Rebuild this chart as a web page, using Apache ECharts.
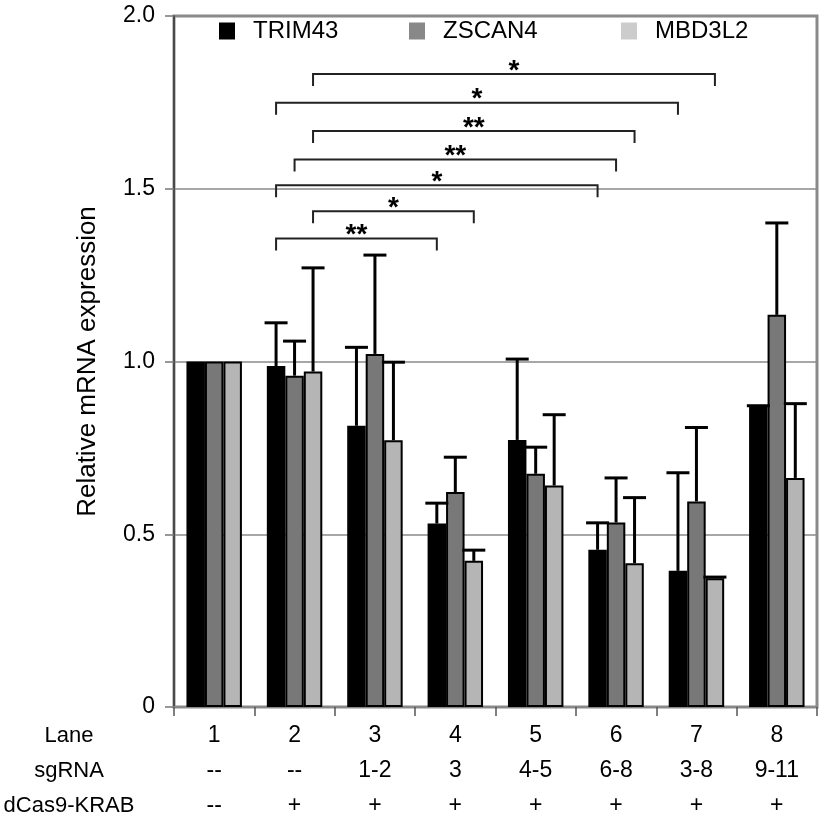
<!DOCTYPE html>
<html>
<head>
<meta charset="utf-8">
<script src="https://cdn.jsdelivr.net/npm/echarts@6/dist/echarts.min.js"></script>
<style>
html,body{margin:0;padding:0;background:#fff;}
#chart{width:825px;height:818px;}
</style>
</head>
<body>
<div id="chart"></div>
<script>
// rows under the x axis
let lanes = ['1','2','3','4','5','6','7','8'];
let sgRNA = ['--','--','1-2','3','4-5','6-8','3-8','9-11'];
let dCas9 = ['--','+','+','+','+','+','+','+'];
let rowNames = ['Lane','sgRNA','dCas9-KRAB'];

// relative mRNA expression, bar heights
let seriesNames = ['TRIM43','ZSCAN4','MBD3L2'];
let trim43 = [1.0, 0.987, 0.814, 0.531, 0.773, 0.455, 0.394, 0.872];
let zscan4 = [1.0, 0.959, 1.022, 0.622, 0.675, 0.534, 0.595, 1.135];
let mbd3l2 = [1.0, 0.971, 0.772, 0.423, 0.641, 0.416, 0.373, 0.663];
// top of the error bars (null = none)
let trim43Top = [null, 1.112, 1.041, 0.590, 1.007, 0.533, 0.678, 0.872];
let zscan4Top = [null, 1.059, 1.308, 0.723, 0.752, 0.663, 0.809, 1.401];
let mbd3l2Top = [null, 1.271, 0.998, 0.454, 0.846, 0.606, 0.376, 0.878];

// significance brackets: lane index + bar index (0 TRIM43,1 ZSCAN4,2 MBD3L2)
let bracketFrom = [1, 1, 1, 1, 1, 1, 1];
let bracketFromBar = [2, 0, 2, 1, 0, 2, 0];
let bracketTo = [6, 6, 5, 5, 5, 3, 3];
let bracketToBar = [2, 0, 2, 1, 0, 2, 0];
let bracketY = [1.832, 1.749, 1.667, 1.585, 1.510, 1.435, 1.356];
let bracketLabel = ['*', '*', '**', '**', '*', '*', '**'];

let CAT_GAP = 0.31;
let FONT = '"Liberation Sans", Arial, Helvetica, sans-serif';
let barColors = ['#000000', '#787878', '#b5b5b5'];
let legendColors = ['#000000', '#888888', '#cccccc'];

let chart = echarts.init(document.getElementById('chart'));

function barSeries(k, values){
  return {
    name: seriesNames[k],
    type: 'bar',
    barGap: '0%',
    barCategoryGap: (CAT_GAP*100)+'%',
    itemStyle: {color: barColors[k], borderColor: '#000', borderWidth: 2},
    emphasis: {disabled: true},
    data: values
  };
}

function errorSeries(k, values, tops){
  let data = [];
  for (let i = 0; i < lanes.length; i++){
    if (tops[i] != null) data.push([i, values[i], tops[i]]);
  }
  return {
    type: 'custom',
    z: 3,
    silent: true,
    encode: {x: 0, y: [1, 2]},
    renderItem: function(params, api){
      let p0 = api.coord([api.value(0), api.value(1)]);
      let p1 = api.coord([api.value(0), api.value(2)]);
      let band = api.size([1, 0])[0];
      let barW = band*(1-CAT_GAP)/3;
      let cx = p0[0] + (k-1)*barW;
      return {type: 'group', children: [
        {type: 'line', shape: {x1: cx, y1: p0[1], x2: cx, y2: p1[1]}, style: {stroke: '#000', lineWidth: 3}},
        {type: 'line', shape: {x1: cx-11.5, y1: p1[1], x2: cx+11.5, y2: p1[1]}, style: {stroke: '#000', lineWidth: 3}}
      ]};
    },
    data: data
  };
}

let bracketSeries = {
  type: 'custom',
  z: 4,
  silent: true,
  encode: {x: [0, 1], y: 2},
  renderItem: function(params, api){
    let i = params.dataIndex;
    let band = api.size([1, 0])[0];
    let barW = band*(1-CAT_GAP)/3;
    let pa = api.coord([api.value(0), api.value(2)]);
    let pb = api.coord([api.value(1), api.value(2)]);
    let xa = pa[0] + (bracketFromBar[i]-1)*barW;
    let xb = pb[0] + (bracketToBar[i]-1)*barW;
    let y = pa[1];
    return {type: 'group', children: [
      {type: 'polyline', shape: {points: [[xa, y+12], [xa, y], [xb, y], [xb, y+12]]},
        style: {stroke: '#222', lineWidth: 2, fill: null}},
      {type: 'text', x: (xa+xb)/2, y: y-3,
        style: {text: bracketLabel[i], font: 'bold 28px ' + FONT, fill: '#000',
          align: 'center', verticalAlign: 'middle', textAlign: 'center', textVerticalAlign: 'middle'}}
    ]};
  },
  data: bracketFrom.map(function(f, i){ return [f, bracketTo[i], bracketY[i]]; })
};

function legendAt(k, left){
  return {
    left: left, top: 19, padding: 0,
    icon: 'rect',
    itemWidth: 16, itemHeight: 17,
    selectedMode: false,
    itemStyle: {borderWidth: 0},
    textStyle: {fontSize: 24, color: '#000', fontFamily: FONT, padding: [0, 0, 0, 13]},
    data: [{name: seriesNames[k], itemStyle: {color: legendColors[k], borderWidth: 0}}]
  };
}

let option = {
  animation: false,
  textStyle: {fontFamily: FONT},
  legend: [legendAt(0, 219), legendAt(1, 409), legendAt(2, 621)],
  grid: {
    left: 174, right: 8, top: 16, bottom: 111,
    outerBoundsMode: 'none',
    containLabel: false,
    show: true, borderColor: '#8a8a8a', borderWidth: 3
  },
  xAxis: {
    type: 'category',
    data: lanes,
    axisLine: {lineStyle: {color: '#888', width: 2}},
    axisTick: {show: true, length: 9, lineStyle: {color: '#555', width: 1.5}},
    axisLabel: {
      interval: 0, margin: 11, fontSize: 23, lineHeight: 35, color: '#000',
      formatter: function(v, i){ return v + '\n' + sgRNA[i] + '\n' + dCas9[i]; }
    },
    splitLine: {show: false}
  },
  yAxis: {
    type: 'value',
    min: 0, max: 2, interval: 0.5,
    name: 'Relative mRNA expression',
    nameLocation: 'middle',
    nameGap: 73,
    nameTextStyle: {fontSize: 26, color: '#000'},
    axisLine: {show: true, lineStyle: {color: '#333', width: 1.5}},
    axisTick: {show: true, length: 9, lineStyle: {color: '#777', width: 1.5}},
    axisLabel: {
      margin: 19, fontSize: 23, color: '#000',
      formatter: function(v){ return v === 0 ? '0' : v.toFixed(1); }
    },
    splitLine: {lineStyle: {color: '#8a8a8a', width: 1.5}}
  },
  graphic: rowNames.map(function(t, i){
    return {type: 'text', x: 69, y: 736 + i*35,
      style: {text: t, font: '22px ' + FONT, fill: '#000', align: 'center', verticalAlign: 'middle'}};
  }),
  series: [
    barSeries(0, trim43), barSeries(1, zscan4), barSeries(2, mbd3l2),
    errorSeries(0, trim43, trim43Top), errorSeries(1, zscan4, zscan4Top), errorSeries(2, mbd3l2, mbd3l2Top),
    bracketSeries
  ]
};

chart.setOption(option);
</script>
</body>
</html>
